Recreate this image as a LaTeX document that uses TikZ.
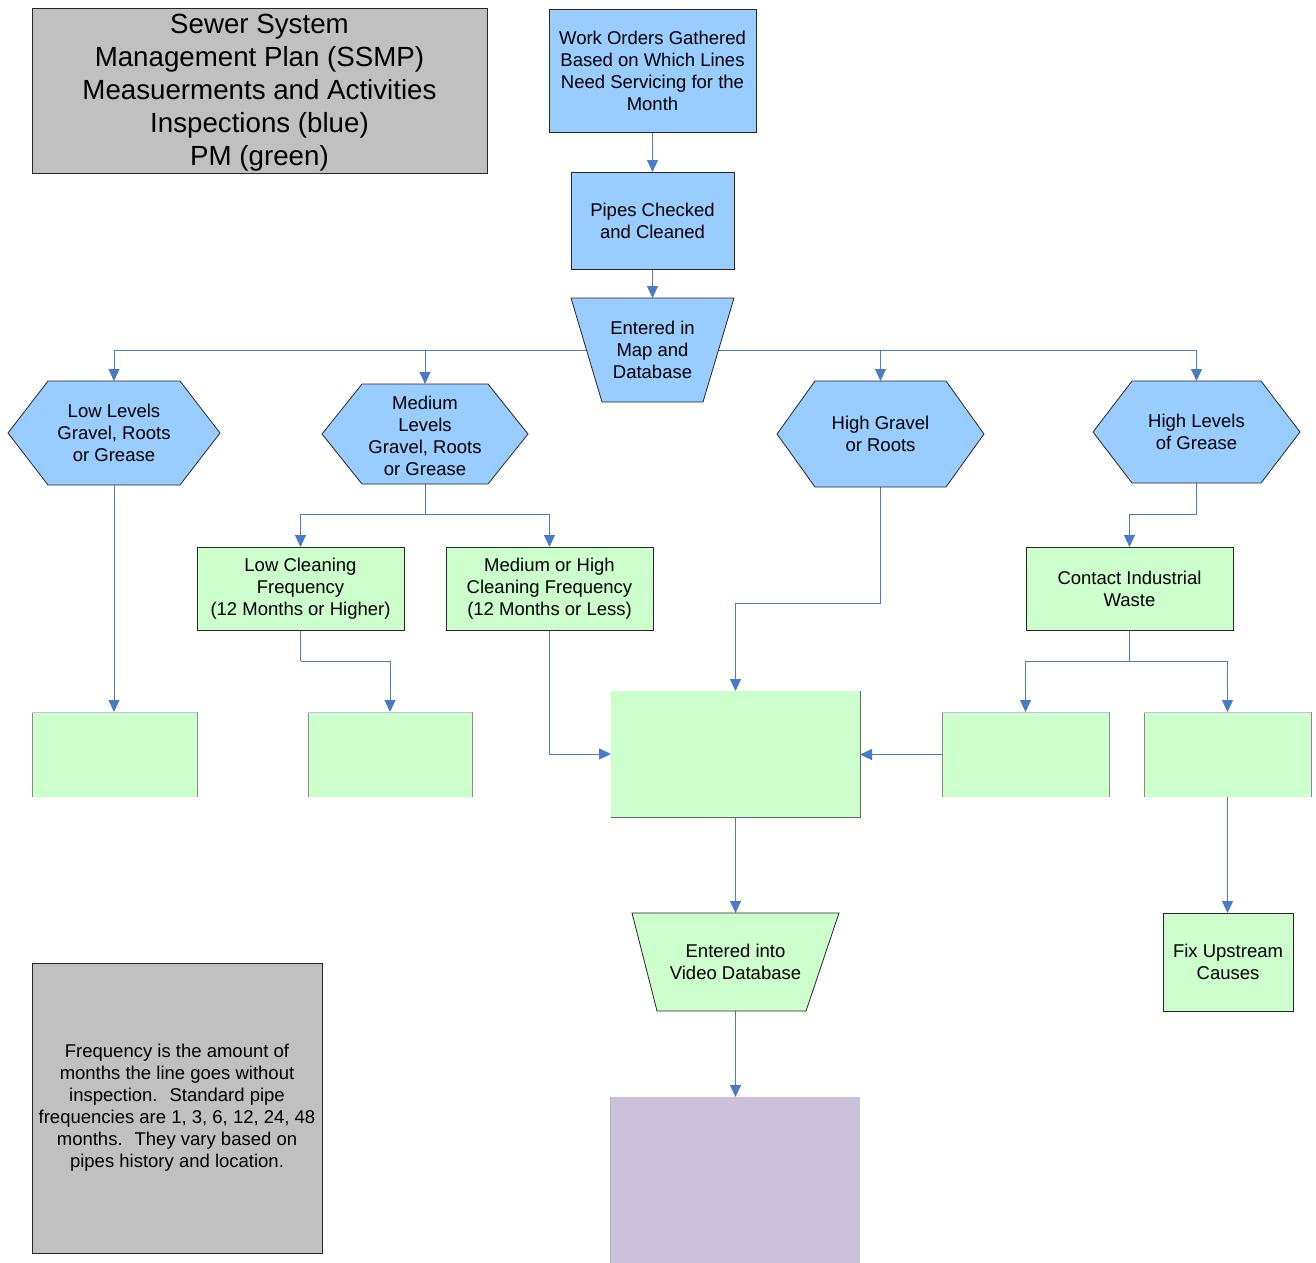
\documentclass[tikz,border=0pt]{standalone}
\usepackage{fontspec}
\setmainfont{Liberation Sans}
\usetikzlibrary{arrows.meta,backgrounds}
\definecolor{bluefill}{HTML}{99CCFF}
\definecolor{greenfill}{HTML}{CCFFCC}
\definecolor{grayfill}{HTML}{C0C0C0}
\definecolor{purplefill}{HTML}{CBC1DA}
\definecolor{conn}{HTML}{4A7BC6}
\definecolor{edgegray}{HTML}{8C8C8C}
\begin{document}
\begin{tikzpicture}[x=1pt,y=-1pt,
  every node/.style={inner sep=0pt, outer sep=0pt, align=center, font=\fontsize{18.5}{22}\selectfont},
  frame/.style 2 args={rectangle, minimum width=#1, minimum height=#2},
  bluebox/.style={draw=black!85, line width=0.8pt, fill=bluefill},
  greenbox/.style={draw=black!85, line width=0.8pt, fill=greenfill},
  graybox/.style={draw=black!85, line width=0.8pt, fill=grayfill},
  plaingreen/.style={fill=greenfill},
  shapeline/.style={draw=black!85, line width=0.8pt},
  thinedge/.style={draw=edgegray, line width=0.6pt},
  arr/.style={draw=conn, line width=0.9pt, -{Triangle[width=11pt,length=12pt]}},
  link/.style={draw=conn, line width=0.9pt}]
\useasboundingbox (0,0) rectangle (1316,1262);

% title
\node[frame={455pt}{165pt}, graybox] (title) at (259.5,90.5) {};
\node[font=\fontsize{27.7}{33}\selectfont] at (259.5,93) 
  {Sewer System\\Management Plan (SSMP)\\Measuerments and Activities\\Inspections (blue)\\PM (green)};

% top column
\node[frame={207pt}{123pt}, bluebox] (wo) at (652.5,70.5)
  {Work Orders Gathered\\Based on Which Lines\\Need Servicing for the\\Month};
\node[frame={163pt}{97pt}, bluebox] (pc) at (652.5,220.5) {Pipes Checked\\and Cleaned};

% trapezoid map
\node[frame={163pt}{104pt}] (map) at (652.5,350) {};
\draw[shapeline, fill=bluefill] (map.north west) -- (map.north east) -- ([xshift=-31pt]map.south east) -- ([xshift=31pt]map.south west) -- cycle;
\node at (map.center) {Entered in\\Map and\\Database};

% hexagons
\node[frame={212pt}{104pt}] (h1) at (114,433) {};
\node[frame={206pt}{100pt}] (h2) at (425,434) {};
\node[frame={207pt}{106pt}] (h3) at (880.5,434) {};
\node[frame={207pt}{102pt}] (h4) at (1196.5,432) {};
\foreach \h/\d in {h1/40,h2/40,h3/38,h4/39}{
  \draw[shapeline, fill=bluefill] (\h.west) -- ([xshift=\d pt]\h.north west) -- ([xshift=-\d pt]\h.north east)
    -- (\h.east) -- ([xshift=-\d pt]\h.south east) -- ([xshift=\d pt]\h.south west) -- cycle;
}
\node at (h1.center) {Low Levels\\Gravel, Roots\\or Grease};
\node at ([yshift=-1.5pt]h2.center) {Medium\\Levels\\Gravel, Roots\\or Grease};
\node at (h3.center) {High Gravel\\or Roots};
\node at (h4.center) {High Levels\\of Grease};

% green decision boxes
\node[frame={207pt}{83pt}, greenbox] (lcf) at (300.5,588.5) {Low Cleaning\\Frequency\\(12 Months or Higher)};
\node[frame={207pt}{83pt}, greenbox] (mhcf) at (549.5,588.5) {Medium or High\\Cleaning Frequency\\(12 Months or Less)};
\node[frame={207pt}{83pt}, greenbox] (ciw) at (1129.5,588.5) {Contact Industrial\\Waste};

% empty green boxes
\node[frame={165pt}{85pt}, plaingreen] (g1) at (114.5,754.5) {};
\node[frame={164pt}{85pt}, plaingreen] (g2) at (390,754.5) {};
\node[frame={249pt}{126pt}, plaingreen] (big) at (735.5,754) {};
\node[frame={167pt}{85pt}, plaingreen] (g3) at (1025.5,754.5) {};
\node[frame={167pt}{85pt}, plaingreen] (g4) at (1227.5,754.5) {};
\foreach \g in {g1,g2,g3,g4}{
  \draw[thinedge] (\g.south west) -- (\g.north west);
  \draw[thinedge] (\g.south east) -- (\g.north east);
  \draw[draw=purplefill, line width=0.6pt] (\g.north west) -- (\g.north east);
}
\draw[draw=black!60, line width=0.8pt] (big.north east) -- (big.south east) -- (big.south west);

% video database trapezoid
\node[frame={207pt}{98pt}] (vid) at (735.5,962) {};
\draw[shapeline, fill=greenfill] (vid.north west) -- (vid.north east) -- ([xshift=-33pt]vid.south east) -- ([xshift=25pt]vid.south west) -- cycle;
\node at (vid.center) {Entered into\\Video Database};

\node[frame={130pt}{98pt}, greenbox] (fix) at (1228,962) {Fix Upstream\\Causes};

% purple box
\node[frame={250pt}{166pt}, fill=purplefill] (pur) at (735,1180) {};
\draw[thinedge, draw=gray!60] (pur.north west) -- (pur.south west);

% note
\node[frame={290pt}{290pt}, graybox] (note) at (177,1108)
  {Frequency is the amount of\\months the line goes without\\inspection.~ Standard pipe\\frequencies are 1, 3, 6, 12, 24, 48\\months.~ They vary based on\\pipes history and location.};

% connectors
\coordinate (b2) at (425,514);
\coordinate (b3) at (300.5,661);
\coordinate (b4) at (880.5,603);
\coordinate (b5) at (1196.5,514);
\coordinate (b6) at (1129.5,661);
\begin{pgfonlayer}{background}
  \draw[arr] (wo.south) -- (pc.north);
  \draw[arr] (pc.south) -- (map.north);
  \draw[arr] (map.center) -| (h1.north);
  \draw[arr] (map.center) -| (h2.north);
  \draw[arr] (map.center) -| (h3.north);
  \draw[arr] (map.center) -| (h4.north);
  \draw[arr] (h1.south) -- (h1.south |- g1.north);
  \draw[link] (h2.south) -- (b2);
  \draw[arr] (b2) -| (lcf.north);
  \draw[arr] (b2) -| (mhcf.north);
  \draw[link] (lcf.south) -- (b3);
  \draw[arr] (b3) -| (g2.north);
  \draw[arr] (mhcf.south) |- (big.west);
  \draw[link] (h3.south) -- (b4);
  \draw[arr] (b4) -| (big.north);
  \draw[link] (h4.south) -- (b5);
  \draw[arr] (b5) -| (ciw.north);
  \draw[link] (ciw.south) -- (b6);
  \draw[arr] (b6) -| (g3.north);
  \draw[arr] (b6) -| (g4.north);
  \draw[arr] (g3.west) -- (g3.west -| big.east);
  \draw[arr] (big.south) -- (vid.north);
  \draw[arr] (vid.south) -- (vid.south |- pur.north);
  \draw[arr] (g4.south) -- (g4.south |- fix.north);
\end{pgfonlayer}
\end{tikzpicture}
\end{document}
